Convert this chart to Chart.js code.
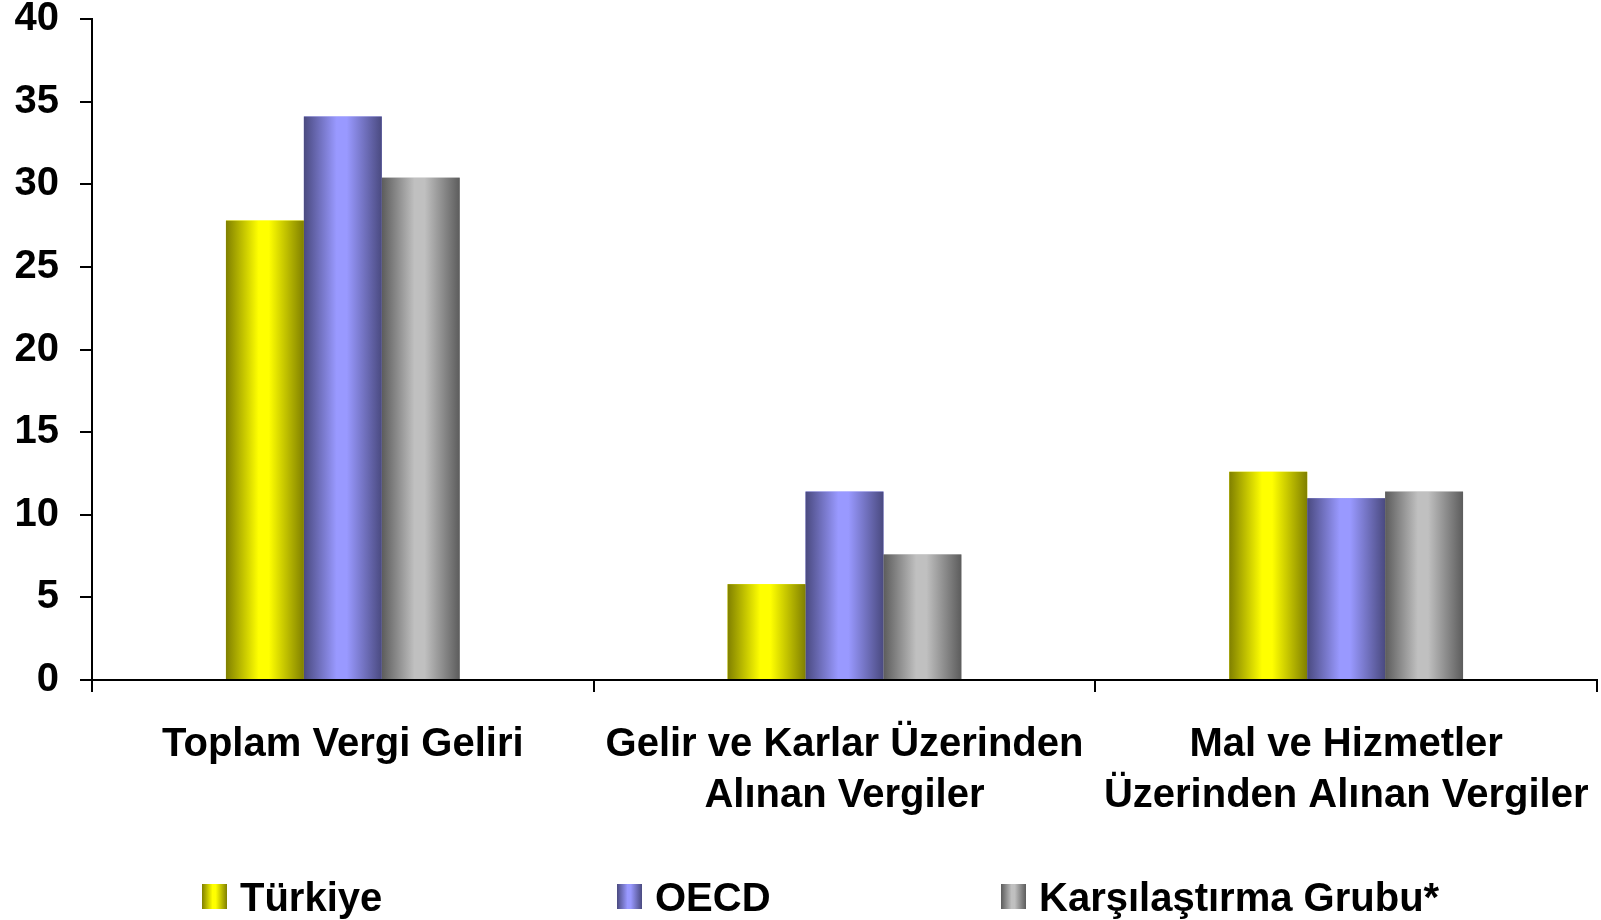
<!DOCTYPE html>
<html>
<head>
<meta charset="utf-8">
<script src="https://cdn.jsdelivr.net/npm/chart.js"></script>
<style>
  html, body { margin: 0; padding: 0; background: #fff; }
  #kutu { width: 1601px; height: 920px; }
</style>
</head>
<body>
<div id="kutu"><canvas id="grafik"></canvas></div>
<script>
// veriler (% GSYH)
const kategoriler = [
  'Toplam Vergi Geliri',
  ['Gelir ve Karlar Üzerinden', 'Alınan Vergiler'],
  ['Mal ve Hizmetler', 'Üzerinden Alınan Vergiler']
];
const turkiye = [27.8, 5.8, 12.6];
const oecd = [34.1, 11.4, 11.0];
const karsilastirma = [30.4, 7.6, 11.4];
const yEtiketleri = [0, 5, 10, 15, 20, 25, 30, 35, 40];

const yazi = '"Liberation Sans", Arial, sans-serif';

// koyu kenar - acik orta - koyu kenar
function golge(ctx, x, w, renk) {
  const g = ctx.createLinearGradient(x, 0, x + w, 0);
  g.addColorStop(0, renk[0]);
  g.addColorStop(0.42, renk[1]);
  g.addColorStop(0.55, renk[1]);
  g.addColorStop(1, renk[0]);
  return g;
}

// cubuklarin uzerine yatay golge
const cubukGolge = {
  id: 'cubukGolge',
  afterDatasetsDraw(chart) {
    const ctx = chart.ctx;
    chart.data.datasets.forEach((ds, i) => {
      const meta = chart.getDatasetMeta(i);
      meta.data.forEach(el => {
        const p = el.getProps(['x', 'y', 'base', 'width'], true);
        const sol = p.x - p.width / 2;
        ctx.save();
        ctx.fillStyle = golge(ctx, sol, p.width, ds.renk);
        ctx.fillRect(sol, p.y, p.width, p.base - p.y);
        ctx.restore();
      });
    });
  }
};

// alttaki aciklama
const aciklama = {
  id: 'aciklama',
  afterDraw(chart) {
    const ctx = chart.ctx;
    const xs = [202, 617, 1001];
    const kutu = 25, ust = 884;
    ctx.save();
    ctx.font = 'bold 40px ' + yazi;
    ctx.textBaseline = 'alphabetic';
    chart.data.datasets.forEach((ds, i) => {
      ctx.fillStyle = golge(ctx, xs[i], kutu, ds.renk);
      ctx.fillRect(xs[i], ust, kutu, kutu);
      ctx.fillStyle = '#000';
      ctx.fillText(ds.label, xs[i] + kutu + 13, 911);
    });
    ctx.restore();
  }
};

new Chart(document.getElementById('grafik'), {
  type: 'bar',
  data: {
    labels: kategoriler,
    datasets: [
      { label: 'Türkiye', data: turkiye, backgroundColor: '#ffff00', renk: ['#808000', '#ffff00'] },
      { label: 'OECD', data: oecd, backgroundColor: '#9999ff', renk: ['#4a4a80', '#9999ff'] },
      { label: 'Karşılaştırma Grubu*', data: karsilastirma, backgroundColor: '#c0c0c0', renk: ['#5c5c5c', '#c0c0c0'] }
    ]
  },
  options: {
    responsive: true,
    maintainAspectRatio: false,
    animation: false,
    layout: { padding: { top: 19, right: 4, left: 0, bottom: 0 } },
    datasets: { bar: { categoryPercentage: 0.466, barPercentage: 1.0, borderWidth: 0 } },
    plugins: {
      legend: { display: false },
      tooltip: { enabled: false }
    },
    scales: {
      x: {
        grid: { offset: true, drawOnChartArea: false, tickLength: 12, color: '#000', lineWidth: 2 },
        border: { color: '#000', width: 2 },
        ticks: {
          color: '#000', font: { family: yazi, size: 40, weight: 'bold', lineHeight: 1.28 },
          maxRotation: 0, autoSkip: false, padding: 27
        },
        afterFit: s => { s.height = 240; s.paddingLeft = 0; s.paddingRight = 0; }
      },
      y: {
        min: 0, max: 40,
        grid: { drawOnChartArea: false, tickLength: 12, color: '#000', lineWidth: 2 },
        border: { color: '#000', width: 2 },
        ticks: {
          color: '#000', font: { family: yazi, size: 40, weight: 'bold' }, padding: 21
        },
        afterBuildTicks: s => { s.ticks = yEtiketleri.map(v => ({ value: v })); },
        afterFit: s => { s.width = 92; s.paddingTop = 0; s.paddingBottom = 0; }
      }
    }
  },
  plugins: [cubukGolge, aciklama]
});
</script>
</body>
</html>
